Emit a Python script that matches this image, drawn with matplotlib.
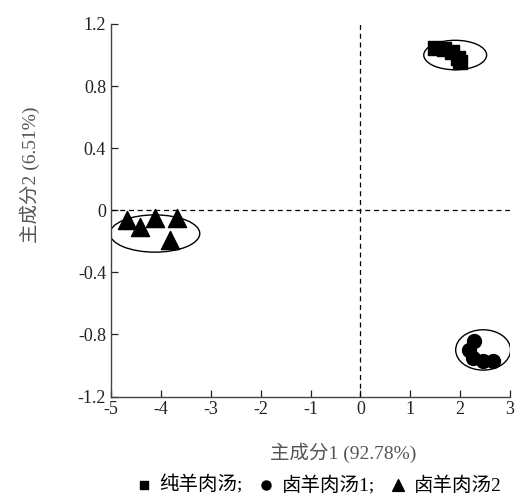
import matplotlib
matplotlib.use('Agg')
import matplotlib.pyplot as plt
from matplotlib.patches import Ellipse

# ----------------------------------------------------------------------
# data
# ----------------------------------------------------------------------
groups = ['纯羊肉汤;', '卤羊肉汤1;', '卤羊肉汤2']
markers = ['s', 'o', '^']

sq_x = [1.50, 1.68, 1.84, 1.96, 2.00]
sq_y = [1.045, 1.04, 1.02, 0.98, 0.955]

ci_x = [2.28, 2.18, 2.26, 2.46, 2.66]
ci_y = [-0.84, -0.90, -0.95, -0.97, -0.97]

tr_x = [-4.68, -4.42, -4.12, -3.68, -3.82]
tr_y = [-0.065, -0.11, -0.05, -0.05, -0.19]

# confidence ellipses: (cx, cy, width, height)
ellipses = [(1.90, 1.00, 1.26, 0.19),
            (2.46, -0.90, 1.10, 0.26),
            (-4.12, -0.15, 1.80, 0.24)]

x_ticks = [-5, -4, -3, -2, -1, 0, 1, 2, 3]
y_ticks = [-1.2, -0.8, -0.4, 0, 0.4, 0.8, 1.2]
y_tick_labels = ['-1.2', '-0.8', '-0.4', '0', '0.4', '0.8', '1.2']

x_label = '主成分1 (92.78%)'
y_label = '主成分2 (6.51%)'

# ----------------------------------------------------------------------
plt.rcParams['font.family'] = ['Liberation Serif', 'Noto Sans CJK SC']

fig = plt.figure(figsize=(5.21, 5.0), dpi=100)
ax = fig.add_axes([0.213, 0.207, 0.766, 0.745])

series = [(sq_x, sq_y), (ci_x, ci_y), (tr_x, tr_y)]
sizes = [95, 100, 170]
handles = []
for (xs, ys), m, s, lab in zip(series, markers, sizes, groups):
    h = ax.scatter(xs, ys, marker=m, s=s, color='black', label=lab, zorder=3)
    handles.append(h)

for cx, cy, w, h in ellipses:
    ax.add_patch(Ellipse((cx, cy), w, h, fill=False, edgecolor='black',
                         linewidth=1.0, zorder=2))

ax.axhline(0, color='black', linestyle=(0, (4, 3)), linewidth=0.9)
ax.axvline(0, color='black', linestyle=(0, (4, 3)), linewidth=0.9)

ax.set_xlim(-5, 3)
ax.set_ylim(-1.2, 1.2)
ax.set_xticks(x_ticks)
ax.set_xticklabels([str(v) for v in x_ticks])
ax.set_yticks(y_ticks)
ax.set_yticklabels(y_tick_labels)
ax.tick_params(direction='in', length=5, width=0.9, labelsize=13, colors='#222222')

for side in ['top', 'right']:
    ax.spines[side].set_visible(False)
for side in ['left', 'bottom']:
    ax.spines[side].set_linewidth(1.0)
    ax.spines[side].set_color('#444444')

fig.text(0.658, 0.094, x_label, ha='center', va='center', fontsize=14, color='#555555')
fig.text(0.058, 0.65, y_label, ha='center', va='center', rotation=90,
         fontsize=14, color='#555555')

fig.legend(handles=handles, labels=groups, loc='center', bbox_to_anchor=(0.61, 0.03),
           ncol=3, frameon=False, fontsize=14, handletextpad=0.3, columnspacing=0.7,
           markerscale=0.65, handlelength=1.0)

fig.savefig('out.png', dpi=100)
